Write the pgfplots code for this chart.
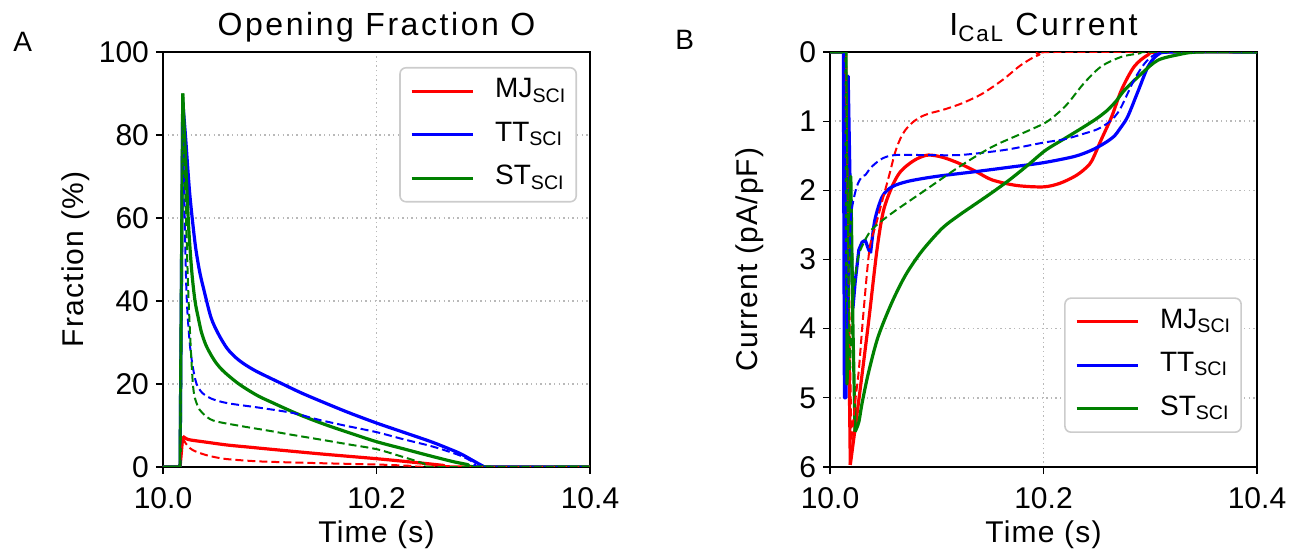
\documentclass[border=0pt]{standalone}
\usepackage{fontspec}
\setmainfont{Liberation Sans}
\newfontfamily\lblfont{Liberation Sans}[LetterSpace=4]
\newfontfamily\ttlfont{Liberation Sans}[LetterSpace=8]
\usepackage{pgfplots}
\pgfplotsset{compat=1.18}
\definecolor{mred}{rgb}{1,0,0}
\definecolor{mblue}{rgb}{0,0,1}
\definecolor{mgreen}{rgb}{0,0.5,0}
\pgfplotsset{
  myaxis/.style={
    scale only axis, width=213.5pt, height=207.5pt,
    xmin=10, xmax=10.4, xtick={10,10.2,10.4}, xticklabels={10.0,10.2,10.4},
    tick align=outside, tick pos=left,
    major tick length=3.5pt,
    every tick/.style={black, line width=0.6pt},
    axis line style={line width=1pt},
    grid=major,
    major grid style={gray!55, line width=0.7pt, dash pattern=on 0.7pt off 1.6pt},
    ticklabel style={font=\fontsize{15}{17}\selectfont},
    xticklabel style={yshift=-3pt},
    /pgf/number format/assume math mode=true,
    label style={font=\lblfont\fontsize{15}{17}\selectfont},
    xlabel style={at={(axis description cs:0.5,-0.183)}, anchor=base},
    every axis title shift=0pt,
    title style={at={(axis description cs:0.5,1.0386)}, anchor=base, yshift=0pt, font=\ttlfont\fontsize{16}{19}\selectfont},
    legend cell align=left,
    legend image code/.code={\draw[#1] (0pt,0pt) -- (30.5pt,0pt);},
    legend style={draw=black!20, rounded corners=3pt, line width=0.8pt, fill=white,
      font=\fontsize{14}{16}\selectfont, inner xsep=5pt, inner ysep=3pt,
      nodes={inner xsep=0pt, inner ysep=2pt, text height=10pt, text depth=3.5pt},
      row sep=4.25pt,
      /tikz/every odd column/.append style={column sep=10.5pt}},
    clip mode=individual,
  },
  sol/.style={line width=1.6pt, line join=round},
  das/.style={line width=1pt, line join=round, dash pattern=on 4pt off 2pt, forget plot},
  sm/.style={smooth, tension=0.5, forget plot},
}
\begin{document}
\begin{tikzpicture}
\begin{axis}[myaxis, at={(0pt,0pt)}, anchor=south west,
  ymin=0, ymax=100, ytick={0,20,40,60,80,100},
  xlabel={Time (s)}, ylabel={Fraction (\%)},
  ylabel style={at={(axis description cs:-0.1866,0.5)}, anchor=base},
  title={Opening Fraction O},
  legend style={at={(axis description cs:0.9696,0.9639)}, anchor=north east},
]
% MJ solid
\addplot[sol, mred] coordinates {(10.000,0)(10.016,0)(10.0185,7.4)};
\addlegendentry{MJ\textsubscript{SCI}}
\addplot[sol, sm, mred] coordinates {(10.0185,7.4)(10.022,6.8)(10.026,6.5)(10.040,6.0)(10.060,5.3)(10.080,4.8)(10.100,4.3)(10.150,3.1)(10.200,2.0)(10.240,1.0)(10.262,0.4)(10.275,0)(10.400,0)};
% TT solid
\addplot[sol, mblue] coordinates {(10.000,0)(10.016,0)(10.0185,88)};
\addlegendentry{TT\textsubscript{SCI}}
\addplot[sol, sm, mblue] coordinates {(10.0185,88)(10.021,80)(10.025,66)(10.030,54)(10.034,47.5)(10.038,43)(10.045,36)(10.052,32)(10.060,28.6)(10.068,26.4)(10.075,25)(10.083,23.7)(10.091,22.6)(10.112,20)(10.130,17.8)(10.153,15.3)(10.175,13)(10.200,10.6)(10.225,8.4)(10.250,6.2)(10.262,5)(10.278,3.3)(10.290,1.6)(10.300,0.2)(10.305,0)(10.400,0)};
% ST solid
\addplot[sol, mgreen] coordinates {(10.000,0)(10.016,0)(10.0185,90)};
\addlegendentry{ST\textsubscript{SCI}}
\addplot[sol, sm, mgreen] coordinates {(10.0185,90)(10.021,75)(10.024,58)(10.027,47)(10.030,40)(10.033,36)(10.036,32.5)(10.040,29.5)(10.045,27)(10.050,25)(10.055,23.5)(10.060,22.3)(10.070,20.2)(10.080,18.5)(10.090,17)(10.100,15.8)(10.125,12.9)(10.150,10.4)(10.175,8.2)(10.200,6.1)(10.225,4.4)(10.247,2.9)(10.270,1.4)(10.285,0.6)(10.297,0)(10.400,0)};
% dashed
\addplot[das, mred] coordinates {(10.000,0)(10.016,0)(10.0185,7.0)};
\addplot[das, sm, mred] coordinates {(10.0185,7.0)(10.021,5.8)(10.025,4.6)(10.030,3.8)(10.040,2.9)(10.050,2.3)(10.060,1.9)(10.080,1.5)(10.100,1.25)(10.150,0.9)(10.200,0.6)(10.230,0.3)(10.255,0)(10.400,0)};
\addplot[das, mblue] coordinates {(10.000,0)(10.016,0)(10.0185,82)};
\addplot[das, sm, mblue] coordinates {(10.0185,82)(10.020,65)(10.022,42)(10.025,30)(10.028,24)(10.0315,20)(10.037,17.8)(10.045,16.5)(10.060,15.4)(10.090,14.3)(10.122,13)(10.144,11.5)(10.170,10)(10.200,8.4)(10.225,6.7)(10.253,4.9)(10.278,2.8)(10.292,1)(10.300,0)(10.400,0)};
\addplot[das, mgreen] coordinates {(10.000,0)(10.016,0)(10.0185,86)};
\addplot[das, sm, mgreen] coordinates {(10.0185,86)(10.021,65)(10.024,40)(10.028,20)(10.032,15)(10.037,13)(10.047,11.2)(10.070,10)(10.100,8.7)(10.122,7.7)(10.150,6.5)(10.175,5.4)(10.200,4.3)(10.220,2.8)(10.234,1.7)(10.245,0.8)(10.256,0)(10.400,0)};
\end{axis}

\begin{axis}[myaxis, at={(333.5pt,0pt)}, anchor=south west,
  ymin=0, ymax=6, ytick={0,1,2,3,4,5,6}, y dir=reverse,
  xlabel={Time (s)}, ylabel={Current (pA/pF)},
  ylabel style={at={(axis description cs:-0.1687,0.5)}, anchor=base},
  title={I\textsubscript{CaL} Current},
  legend style={at={(axis description cs:0.9647,0.082)}, anchor=south east},
]
\addplot[sol, mred] coordinates {(10.000,0)(10.0145,0)(10.019,5.97)};
\addlegendentry{MJ\textsubscript{SCI}}
\addplot[sol, sm, mred] coordinates {(10.019,5.97)(10.027,5.03)(10.036,3.92)(10.044,2.86)(10.050,2.30)(10.058,1.95)(10.065,1.75)(10.073,1.63)(10.082,1.54)(10.092,1.49)(10.105,1.52)(10.121,1.61)(10.137,1.73)(10.152,1.85)(10.175,1.93)(10.200,1.95)(10.215,1.90)(10.229,1.80)(10.238,1.70)(10.245,1.58)(10.254,1.27)(10.264,0.93)(10.273,0.55)(10.285,0.21)(10.298,0.04)(10.310,0)(10.400,0)};
\addplot[sol, mblue] coordinates {(10.000,0)(10.0125,0)(10.0135,5.0)(10.0150,5.0)(10.0170,0.35)(10.0195,2.5)(10.0215,3.7)(10.0235,3.34)(10.027,2.86)(10.030,2.75)(10.033,2.72)(10.036,2.85)(10.038,2.91)};
\addlegendentry{TT\textsubscript{SCI}}
\addplot[sol, sm, mblue] coordinates {(10.038,2.91)(10.042,2.43)(10.049,2.09)(10.058,1.95)(10.073,1.87)(10.099,1.80)(10.136,1.73)(10.171,1.66)(10.200,1.60)(10.229,1.51)(10.245,1.42)(10.257,1.32)(10.266,1.22)(10.272,1.10)(10.279,0.93)(10.289,0.55)(10.298,0.21)(10.307,0.04)(10.320,0)(10.400,0)};
\addplot[sol, mgreen] coordinates {(10.000,0)(10.015,0)(10.016,4.8)(10.0175,3.0)(10.0195,1.8)(10.0215,4.0)(10.0235,5.49)};
\addlegendentry{ST\textsubscript{SCI}}
\addplot[sol, sm, mgreen] coordinates {(10.0235,5.49)(10.027,5.35)(10.030,5.08)(10.036,4.64)(10.045,4.12)(10.058,3.62)(10.071,3.22)(10.086,2.88)(10.105,2.55)(10.120,2.37)(10.136,2.20)(10.152,2.03)(10.168,1.85)(10.185,1.64)(10.202,1.42)(10.220,1.25)(10.238,1.08)(10.250,0.96)(10.260,0.84)(10.268,0.71)(10.276,0.55)(10.292,0.31)(10.307,0.12)(10.326,0.04)(10.345,0)(10.400,0)};
\addplot[das, mred] coordinates {(10.000,0)(10.0145,0)(10.020,5.6)};
\addplot[das, sm, mred] coordinates {(10.020,5.6)(10.024,5.0)(10.027,4.6)(10.031,3.83)(10.037,2.85)(10.043,2.5)(10.049,2.15)(10.056,1.75)(10.061,1.45)(10.066,1.25)(10.071,1.12)(10.078,1.01)(10.086,0.93)(10.095,0.88)(10.105,0.84)(10.117,0.78)(10.127,0.72)(10.143,0.60)(10.162,0.40)(10.177,0.21)(10.188,0.10)(10.196,0.04)(10.210,0)(10.400,0)};
\addplot[das, mblue] coordinates {(10.000,0)(10.013,0)(10.016,4.0)};
\addplot[das, sm, mblue] coordinates {(10.016,4.0)(10.018,3.0)(10.020,2.33)(10.025,1.95)(10.030,1.80)(10.033,1.78)(10.039,1.66)(10.049,1.54)(10.061,1.49)(10.089,1.49)(10.121,1.49)(10.152,1.44)(10.170,1.40)(10.200,1.31)(10.220,1.26)(10.238,1.18)(10.250,1.12)(10.260,1.03)(10.267,0.93)(10.273,0.79)(10.285,0.40)(10.295,0.16)(10.304,0.04)(10.315,0)(10.400,0)};
\addplot[das, mgreen] coordinates {(10.000,0)(10.015,0)(10.0185,4.6)};
\addplot[das, sm, mgreen] coordinates {(10.0185,4.6)(10.022,3.5)(10.026,3.0)(10.030,2.81)(10.039,2.57)(10.058,2.33)(10.089,2.00)(10.121,1.66)(10.152,1.37)(10.184,1.15)(10.202,1.02)(10.213,0.89)(10.223,0.74)(10.238,0.45)(10.254,0.21)(10.273,0.07)(10.290,0.02)(10.300,0)(10.400,0)};
\end{axis}
\node[anchor=base west, inner sep=0pt, font=\fontsize{14}{16}\selectfont] at (-75pt,207.5pt) {A};
\node[anchor=base west, inner sep=0pt, font=\fontsize{14}{16}\selectfont] at (256pt,208.5pt) {B};
\pgfresetboundingbox
\path (-81.5pt,-41.5pt) rectangle (568.5pt,233.5pt);
\end{tikzpicture}
\end{document}
